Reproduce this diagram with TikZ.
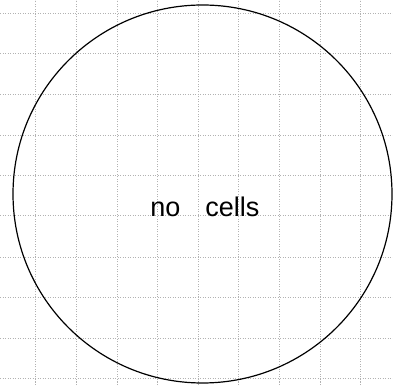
\documentclass[tikz,border=0pt]{standalone}
\usepackage{fontspec}
\newfontfamily\handfont{Liberation Sans}
\begin{document}
\begin{tikzpicture}[x=1pt,y=1pt,
  gridline/.style={draw=black!30, line width=0.5pt, dash pattern=on 1.2pt off 1.3pt},
  rim/.style={draw=black, line width=1.2pt},
  label/.style={font=\handfont\fontsize{27}{30}\selectfont, inner sep=0pt}]
\useasboundingbox (0,0) rectangle (393,385);
% grid paper
\foreach \gx in {35,76,117,157,198,238,279,320,360}
  \draw[gridline] (\gx,0) -- (\gx,385);
\foreach \gy in {13,53,94,135,175,215,257,297,338,378}
  \draw[gridline] (0,385-\gy) -- (393,385-\gy);
% dish
\coordinate (c) at (202.5,191);
\draw[rim] (c) ellipse [x radius=189.5, y radius=189];
% text
\node[label, anchor=base] (t) at (205,168) {no\hspace{25pt}cells};
\end{tikzpicture}
\end{document}
